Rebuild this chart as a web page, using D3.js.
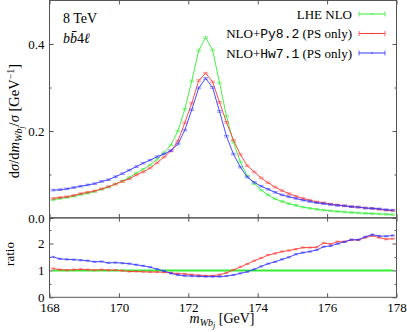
<!DOCTYPE html>
<html lang="en">
  <head>
    <meta charset="UTF-8" />
    <title>m_Wbj distribution</title>
    <style>
      body { margin: 0; background: #fff; }
      svg { display: block; font-family: 'Liberation Serif', 'DejaVu Serif', serif; }
      .axis text { font-family: 'Liberation Serif', serif; font-size: 13px; fill: #000; }
      .axis line { stroke: #555; }
      .axis path { display: none; }
      .tt { font-family: 'Liberation Mono', 'DejaVu Sans Mono', monospace; }
    </style>
    <script src="https://d3js.org/d3.v7.min.js"></script>
  </head>
  <body>
    <svg width="407" height="332"></svg>
    <script>
      // bin centres, 0.2 GeV wide
      var mass = [168.1, 168.3, 168.5, 168.7, 168.9, 169.1, 169.3, 169.5, 169.7, 169.9,
        170.1, 170.3, 170.5, 170.7, 170.9, 171.1, 171.3, 171.5, 171.7, 171.9,
        172.1, 172.3, 172.5, 172.7, 172.9, 173.1, 173.3, 173.5, 173.7, 173.9,
        174.1, 174.3, 174.5, 174.7, 174.9, 175.1, 175.3, 175.5, 175.7, 175.9,
        176.1, 176.3, 176.5, 176.7, 176.9, 177.1, 177.3, 177.5, 177.7, 177.9]

      var lheNLO = [0.042, 0.045, 0.047, 0.050, 0.054, 0.057, 0.061, 0.066, 0.071, 0.078,
        0.085, 0.093, 0.103, 0.112, 0.122, 0.135, 0.150, 0.168, 0.200, 0.250,
        0.315, 0.385, 0.415, 0.386, 0.311, 0.234, 0.175, 0.129, 0.096, 0.079,
        0.064, 0.053, 0.044, 0.038, 0.033, 0.029, 0.025, 0.0225, 0.020, 0.018,
        0.0165, 0.015, 0.0138, 0.0127, 0.0117, 0.0108, 0.010, 0.0093, 0.0085, 0.0078]

      var nloPy8 = [0.045, 0.047, 0.049, 0.052, 0.056, 0.059, 0.062, 0.067, 0.072, 0.078,
        0.084, 0.090, 0.099, 0.106, 0.115, 0.127, 0.140, 0.154, 0.177, 0.219,
        0.264, 0.316, 0.333, 0.313, 0.266, 0.220, 0.179, 0.146, 0.120, 0.106,
        0.092, 0.081, 0.071, 0.063, 0.056, 0.050, 0.045, 0.041, 0.037, 0.035,
        0.032, 0.030, 0.028, 0.026, 0.025, 0.023, 0.022, 0.020, 0.018, 0.017]

      var nloHw7 = [0.064, 0.065, 0.067, 0.070, 0.073, 0.076, 0.079, 0.084, 0.088, 0.095,
        0.102, 0.110, 0.118, 0.126, 0.133, 0.141, 0.147, 0.155, 0.170, 0.202,
        0.249, 0.299, 0.321, 0.300, 0.245, 0.188, 0.147, 0.117, 0.094, 0.082,
        0.073, 0.066, 0.059, 0.053, 0.049, 0.045, 0.041, 0.038, 0.035, 0.033,
        0.031, 0.029, 0.028, 0.026, 0.025, 0.023, 0.022, 0.021, 0.019, 0.018]

      // ratio to LHE NLO
      var ratioPy8 = [1.07, 1.03, 1.01, 1.03, 1.04, 1.03, 1.01, 1.03, 1.01, 1.01,
        0.99, 0.96, 0.96, 0.95, 0.94, 0.94, 0.93, 0.91, 0.88, 0.87,
        0.84, 0.82, 0.80, 0.80, 0.84, 0.91, 1.02, 1.13, 1.24, 1.36,
        1.46, 1.57, 1.63, 1.70, 1.74, 1.79, 1.85, 1.85, 1.86, 2.02,
        1.98, 2.07, 2.07, 2.14, 2.13, 2.22, 2.29, 2.22, 2.16, 2.18]

      var ratioHw7 = [1.50, 1.43, 1.41, 1.40, 1.38, 1.36, 1.32, 1.33, 1.28, 1.29,
        1.27, 1.25, 1.21, 1.17, 1.12, 1.05, 0.98, 0.89, 0.83, 0.80,
        0.79, 0.78, 0.77, 0.77, 0.77, 0.79, 0.83, 0.89, 0.95, 1.04,
        1.15, 1.25, 1.32, 1.41, 1.49, 1.60, 1.66, 1.70, 1.76, 1.88,
        1.91, 1.99, 2.06, 2.14, 2.14, 2.25, 2.33, 2.28, 2.27, 2.30]

      var xTicks = [168, 170, 172, 174, 176, 178]
      var yTicks = [0.0, 0.2, 0.4]
      var yMinor = [0.1, 0.3]
      var rTicks = [0, 1, 2]
      var rMinor = [0.5, 1.5, 2.5]

      var colors = { lhe: '#33ee33', py8: '#ff3b3b', hw7: '#3535ff' }

      var svg = d3.select('svg')

      var left = 49.5, right = 396.5
      var x = d3.scaleLinear().domain([168, 178]).range([left, right])
      var yTop = d3.scaleLinear().domain([0, 0.5]).range([218, 0.5])
      var yRat = d3.scaleLinear().domain([0, 2.96]).range([297.3, 217.7])

      function rows(vals) {
        return mass.map(function(m, i) { return { m: m, v: vals[i] } })
      }

      // axes, ticks pointing inwards
      function yAxes(scale, major, minor, fmt) {
        svg.append('g').attr('class', 'axis')
          .attr('transform', `translate(${left},0)`)
          .call(d3.axisLeft(scale).tickValues(major).tickSize(-4).tickPadding(5).tickFormat(fmt))
        svg.append('g').attr('class', 'axis')
          .attr('transform', `translate(${left},0)`)
          .call(d3.axisLeft(scale).tickValues(minor).tickSize(-2).tickFormat(''))
        svg.append('g').attr('class', 'axis')
          .attr('transform', `translate(${right},0)`)
          .call(d3.axisRight(scale).tickValues(major).tickSize(-4).tickFormat(''))
        svg.append('g').attr('class', 'axis')
          .attr('transform', `translate(${right},0)`)
          .call(d3.axisRight(scale).tickValues(minor).tickSize(-2).tickFormat(''))
      }
      yAxes(yTop, yTicks, yMinor, d3.format('.1f'))
      yAxes(yRat, rTicks, rMinor, d3.format('d'))

      svg.append('g').attr('class', 'axis')
        .attr('transform', `translate(0,${yTop(0)})`)
        .call(d3.axisBottom(x).tickValues(xTicks).tickSize(-4).tickFormat(''))
      svg.append('g').attr('class', 'axis')
        .attr('transform', `translate(0,${yTop(0.5)})`)
        .call(d3.axisTop(x).tickValues(xTicks).tickSize(-4).tickFormat(''))
      svg.append('g').attr('class', 'axis')
        .attr('transform', `translate(0,${yRat(2.96)})`)
        .call(d3.axisTop(x).tickValues(xTicks).tickSize(-4).tickFormat(''))
      svg.append('g').attr('class', 'axis')
        .attr('transform', `translate(0,${yRat(0)})`)
        .call(d3.axisBottom(x).tickValues(xTicks).tickSize(-4).tickPadding(5.5).tickFormat(d3.format('d')))

      // curves with small error bars
      function curve(scale, data, color, w, eh, ew) {
        var g = svg.append('g')
        g.append('path')
          .datum(data)
          .attr('fill', 'none')
          .attr('stroke', color)
          .attr('stroke-width', w)
          .attr('d', d3.line().x(function(d) { return x(d.m) }).y(function(d) { return scale(d.v) }))
        if (!eh) return
        var bars = g.selectAll('g.eb').data(data).enter().append('g')
          .attr('transform', function(d) { return `translate(${x(d.m)},${scale(d.v)})` })
          .attr('stroke', color).attr('stroke-width', 0.6).attr('stroke-opacity', 0.85)
        bars.append('line').attr('y1', -eh).attr('y2', eh)
        bars.append('line').attr('x1', -ew).attr('x2', ew).attr('y1', -eh).attr('y2', -eh)
        bars.append('line').attr('x1', -ew).attr('x2', ew).attr('y1', eh).attr('y2', eh)
      }

      curve(yTop, rows(lheNLO), colors.lhe, 0.9, 0.8, 2.5)
      curve(yTop, rows(nloPy8), colors.py8, 0.9, 0.8, 2.5)
      curve(yTop, rows(nloHw7), colors.hw7, 0.9, 0.8, 2.5)

      curve(yRat, rows(lheNLO.map(function(v, i) { return v / lheNLO[i] })), colors.lhe, 2, 0, 0)
      curve(yRat, rows(ratioPy8), colors.py8, 0.9, 0.6, 2)
      curve(yRat, rows(ratioHw7), colors.hw7, 0.9, 0.6, 2)

      // frames
      svg.append('rect').attr('x', left).attr('y', yTop(0.5))
        .attr('width', right - left).attr('height', yTop(0) - yTop(0.5))
        .attr('fill', 'none').attr('stroke', '#555')
      svg.append('rect').attr('x', left).attr('y', yRat(2.96))
        .attr('width', right - left).attr('height', yRat(0) - yRat(2.96))
        .attr('fill', 'none').attr('stroke', '#555')

      // text helper: list of [text, options]
      function rich(sel, parts) {
        parts.forEach(function(p) {
          var t = sel.append('tspan').text(p[0])
          var o = p[1] || {}
          if (o.i) t.attr('font-style', 'italic')
          if (o.s) t.attr('font-size', o.s)
          if (o.dy) t.attr('dy', o.dy)
          if (o.c) t.attr('class', o.c)
        })
      }

      // legend
      var legend = [
        { parts: [['LHE NLO']], color: colors.lhe },
        { parts: [['NLO+'], ['Py8.2', { c: 'tt' }], [' (PS only)']], color: colors.py8 },
        { parts: [['NLO+'], ['Hw7.1', { c: 'tt' }], [' (PS only)']], color: colors.hw7 }
      ]
      legend.forEach(function(l, i) {
        var yy = 14 + i * 19.5
        var t = svg.append('text').attr('x', 352).attr('y', yy + 4.5)
          .attr('text-anchor', 'end').attr('font-size', 13)
        rich(t, l.parts)
        svg.append('line').attr('x1', 359).attr('x2', 385).attr('y1', yy).attr('y2', yy)
          .attr('stroke', l.color).attr('stroke-width', 1)
        ;[359, 385].forEach(function(xx) {
          svg.append('line').attr('x1', xx).attr('x2', xx).attr('y1', yy - 2.5).attr('y2', yy + 2.5)
            .attr('stroke', l.color).attr('stroke-width', 0.8)
        })
        svg.append('circle').attr('cx', 372).attr('cy', yy).attr('r', 0.8).attr('fill', l.color)
      })

      svg.append('text').attr('x', 63).attr('y', 23).attr('font-size', 14).text('8 TeV')
      var proc = svg.append('text').attr('x', 63).attr('y', 43).attr('font-size', 14)
      rich(proc, [['b', { i: 1 }], ['b\u0304', { i: 1 }], ['4'], ['\u2113', { i: 1 }]])

      // axis titles
      var yl = svg.append('text').attr('text-anchor', 'middle').attr('font-size', 14.5)
        .attr('transform', 'translate(19,121) rotate(-90)')
      rich(yl, [['d'], ['\u03c3', { i: 1 }], ['/d'], ['m', { i: 1 }],
        ['Wb', { i: 1, s: 10, dy: 3 }], ['j', { i: 1, s: 8, dy: 2 }],
        ['/', { dy: -5 }], ['\u03c3', { i: 1 }], [' [GeV'], ['\u22121', { s: 10, dy: -5 }], [']', { dy: 5 }]])

      svg.append('text').attr('text-anchor', 'middle').attr('font-size', 13)
        .attr('transform', 'translate(14,254) rotate(-90)').text('ratio')

      var xl = svg.append('text').attr('x', 222).attr('y', 323).attr('text-anchor', 'middle').attr('font-size', 14)
      rich(xl, [['m', { i: 1 }], ['Wb', { i: 1, s: 10, dy: 3 }], ['j', { i: 1, s: 8, dy: 2 }], [' [GeV]', { dy: -5 }]])
    </script>
  </body>
</html>
